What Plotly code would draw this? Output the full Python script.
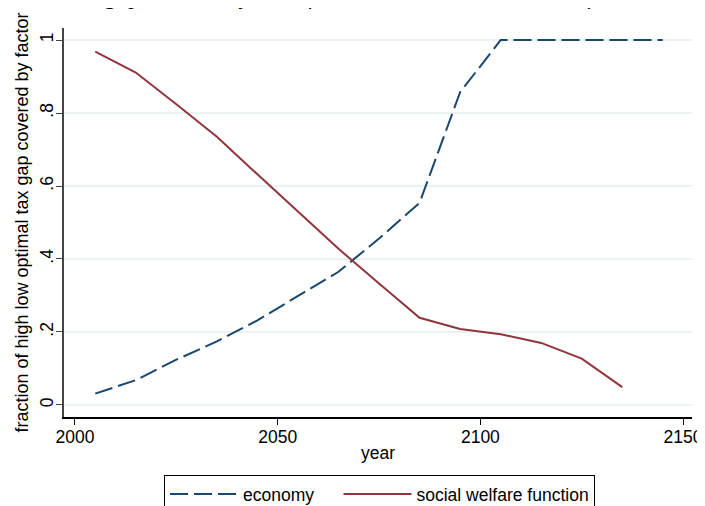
import plotly.graph_objects as go

# data
years = [2005, 2015, 2025, 2035, 2045, 2055, 2065, 2075, 2085, 2095, 2105, 2115, 2125, 2135, 2145]
economy = [0.031, 0.068, 0.124, 0.174, 0.232, 0.298, 0.365, 0.456, 0.554, 0.857, 1.0, 1.0, 1.0, 1.0, 1.0]
swf_years = [2005, 2015, 2025, 2035, 2045, 2055, 2065, 2075, 2085, 2095, 2105, 2115, 2125, 2135]
swf = [0.968, 0.911, 0.824, 0.735, 0.632, 0.530, 0.428, 0.333, 0.239, 0.208, 0.194, 0.170, 0.127, 0.049]

y_ticks = [0, 0.2, 0.4, 0.6, 0.8, 1]
y_ticklabels = ["0", ".2", ".4", ".6", ".8", "1"]
x_ticks = [2000, 2050, 2100, 2150]

NAVY = "#1a476f"
MAROON = "#90353b"
GRID = "#eaf2f3"
FONT = "Liberation Sans, Arial, sans-serif"

# the page body adds an 8px margin, so the figure is drawn 8px smaller
W, H = 697, 498

fig = go.Figure()
# trailing no-break spaces widen the gap between the two legend entries
fig.add_trace(go.Scatter(x=years, y=economy, mode="lines", name="economy" + "\u00a0" * 4,
                         line=dict(color=NAVY, width=2, dash="18px,6px")))
fig.add_trace(go.Scatter(x=swf_years, y=swf, mode="lines", name="social welfare function",
                         line=dict(color=MAROON, width=2)))

fig.update_layout(
    width=W, height=H,
    margin=dict(l=56, r=13, t=20, b=89, autoexpand=False),
    paper_bgcolor="white", plot_bgcolor="white",
    font=dict(family=FONT, size=17, color="black"),
    showlegend=True,
    legend=dict(orientation="h", x=371.5 / W, xref="container", xanchor="center",
                y=1 - 467 / H, yref="container", yanchor="top",
                bordercolor="black", borderwidth=1, bgcolor="white",
                font=dict(size=17.5), itemwidth=68, traceorder="normal"),
)

fig.update_xaxes(range=[1997.29, 2152.2], tickvals=x_ticks, showgrid=False, zeroline=False,
                 automargin=False,
                 showline=True, linecolor="black", linewidth=1.5,
                 ticks="outside", ticklen=6, tickcolor="black", tickwidth=1.2, ticklabelstandoff=-3,
                 title=dict(text="year", standoff=1, font=dict(size=17.5)), tickfont=dict(size=17.5))
fig.update_yaxes(range=[-0.033, 1.033], tickvals=y_ticks, ticktext=y_ticklabels, tickangle=-90,
                 automargin=False,
                 showgrid=True, gridcolor=GRID, gridwidth=1.5, zeroline=False,
                 showline=True, linecolor="#444444", linewidth=1.5,
                 ticks="outside", ticklen=6, tickcolor="#444444", tickwidth=1.2, ticklabelstandoff=-4,
                 title=dict(text="fraction of high low optimal tax gap covered by factor",
                            font=dict(size=18), standoff=4),
                 tickfont=dict(size=17.5))

# clipped title at the very top of the canvas
fig.add_annotation(text="<i>Fraction of the optimal tax gap covered by each factor over the time horizon, \u03c1 = 3%,</i>",
                   xref="paper", yref="paper", x=0.961, y=1.043, xanchor="right", yanchor="bottom",
                   showarrow=False, font=dict(family="Liberation Serif, serif", size=24, color="black"))

fig.write_html("out.html")
